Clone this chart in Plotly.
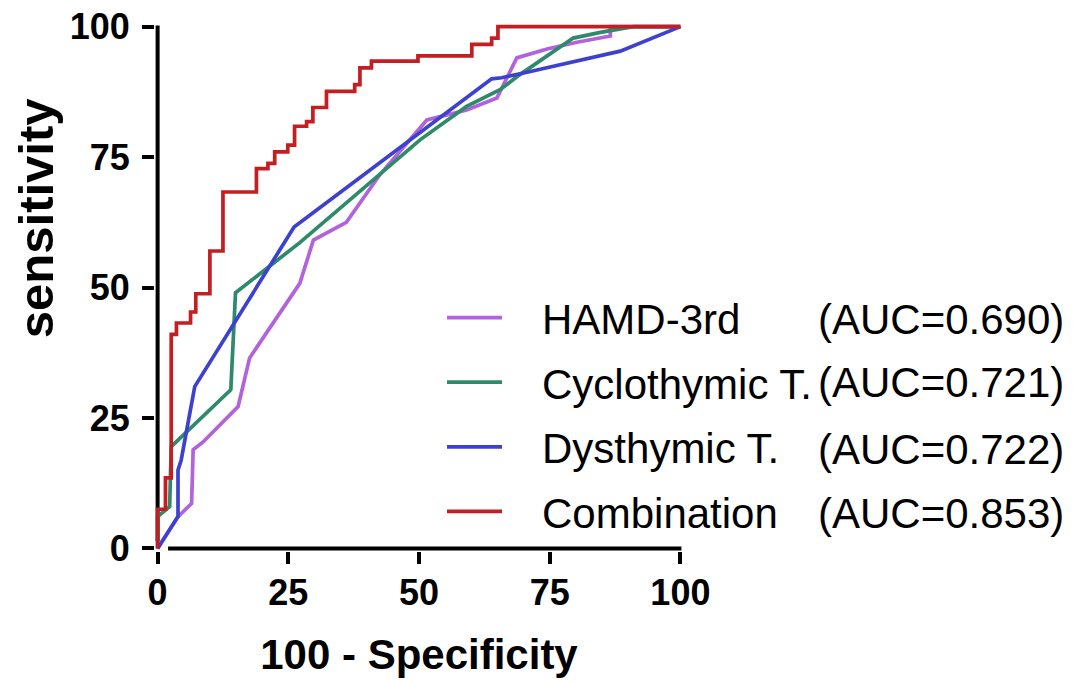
import plotly.graph_objects as go

# ---------------- data ----------------
tick_vals = [0, 25, 50, 75, 100]

names = ["HAMD-3rd", "Cyclothymic T.", "Dysthymic T.", "Combination"]
auc_labels = ["(AUC=0.690)", "(AUC=0.721)", "(AUC=0.722)", "(AUC=0.853)"]
colors = ["#B262DD", "#2E8A68", "#3D41CF", "#C41E22"]

hamd_fpr = [0, 3.9, 6.5, 6.8, 8.7, 15.4, 17.6, 27.2, 29.8, 36.1, 42.5, 51.5, 59.1,
            64.9, 68.7, 74.5, 80.2, 86.6, 86.6, 100]
hamd_tpr = [0, 6.1, 8.6, 18.9, 20.4, 27.2, 36.5, 50.8, 59.1, 62.5, 71.6, 82.1, 84.0,
            86.3, 94.0, 95.7, 97.0, 98.2, 100, 100]

cyclo_fpr = [0, 0, 2.3, 2.6, 14.0, 14.9, 27.2, 50.2, 59.1, 65.5, 69.3, 79.5, 84.7, 91.0, 100]
cyclo_tpr = [0, 6.1, 8.0, 19.5, 30.4, 49.0, 58.6, 78.3, 84.7, 87.9, 90.8, 97.8, 98.9, 100, 100]

dysth_fpr = [0, 3.9, 3.9, 4.5, 7.1, 26.1, 63.9, 65.8, 71.3, 88.5, 100]
dysth_tpr = [0, 6.1, 15.0, 16.9, 31.0, 61.6, 90.0, 90.2, 91.4, 95.3, 100]

# step curve: corners where each vertical jump ends
comb_fpr = [0, 0, 1.5, 2.6, 3.6, 6.3, 7.3, 10.0, 12.5, 18.9, 21.1, 22.4, 24.9, 26.2,
            28.5, 29.7, 32.3, 37.7, 38.7, 40.9, 49.8, 60.1, 63.9, 65.1, 100]
comb_tpr = [0, 7.5, 13.5, 41.0, 43.2, 45.3, 48.8, 57.0, 68.3, 72.8, 73.8, 76.0, 77.3, 80.9,
            81.8, 84.5, 87.6, 88.9, 92.1, 93.4, 94.4, 96.6, 97.8, 100, 100]

series = [
    (hamd_fpr, hamd_tpr, "linear"),
    (cyclo_fpr, cyclo_tpr, "linear"),
    (dysth_fpr, dysth_tpr, "linear"),
    (comb_fpr, comb_tpr, "hv"),
]

FONT = "Arial, Liberation Sans, sans-serif"
PAD = "\u00a0\u00a0\u00a0"

fig = go.Figure()
for name, color, (fx, fy, shp) in zip(names, colors, series):
    fig.add_trace(go.Scatter(
        x=fx, y=fy, mode="lines", name=PAD + name, legendgroup=name,
        line=dict(color=color, width=3.7, shape=shp),
    ))

axis_common = dict(
    tickvals=tick_vals, ticktext=[str(v) for v in tick_vals],
    ticks="outside", ticklen=12, tickwidth=4, tickcolor="black",
    showline=False, showgrid=False, zeroline=False, automargin=False,
    range=[-0.5, 100.5],
    tickfont=dict(family=FONT, size=36, color="black", weight="bold"),
)

fig.update_layout(
    width=1080, height=683,
    margin=dict(l=155, r=397, t=24, b=132),
    paper_bgcolor="white", plot_bgcolor="white",
    xaxis=dict(**axis_common, ticklabelstandoff=-2,
               title=dict(text="100 - Specificity", standoff=27,
                          font=dict(family=FONT, size=42, color="black", weight="bold"))),
    yaxis=dict(**axis_common, ticklabelstandoff=5),
    showlegend=True,
    legend=dict(x=0.5436, y=0.507, xanchor="left", yanchor="top",
                font=dict(family=FONT, size=42, color="black"),
                tracegroupgap=7, bgcolor="rgba(0,0,0,0)", itemwidth=55),
)

# offset axis lines (GraphPad style: small gap at origin)
fig.add_shape(type="line", xref="x", yref="y", x0=0, x1=0, y0=1.4, y1=100.2,
              line=dict(color="black", width=4), layer="below")
fig.add_shape(type="line", xref="x", yref="y", x0=2.0, x1=100.2, y0=0, y1=0,
              line=dict(color="black", width=4), layer="below")

# y-axis title
fig.add_annotation(text="sensitivity", xref="paper", yref="paper",
                   x=-0.225, y=0.632, textangle=-90, showarrow=False,
                   xanchor="center", yanchor="middle",
                   font=dict(family=FONT, size=49, color="black", weight="bold"))

# AUC values in the legend rows
row_y = [0.4402, 0.3188, 0.1935, 0.0721]
for txt, yy in zip(auc_labels, row_y):
    fig.add_annotation(text=txt, xref="paper", yref="paper", x=1.7254, y=yy,
                       xanchor="right", yanchor="middle", showarrow=False,
                       font=dict(family=FONT, size=42, color="black"))

fig.write_html("out.html", config={"displayModeBar": False},
               post_script="document.body.style.margin='0';document.body.style.overflow='hidden';")
